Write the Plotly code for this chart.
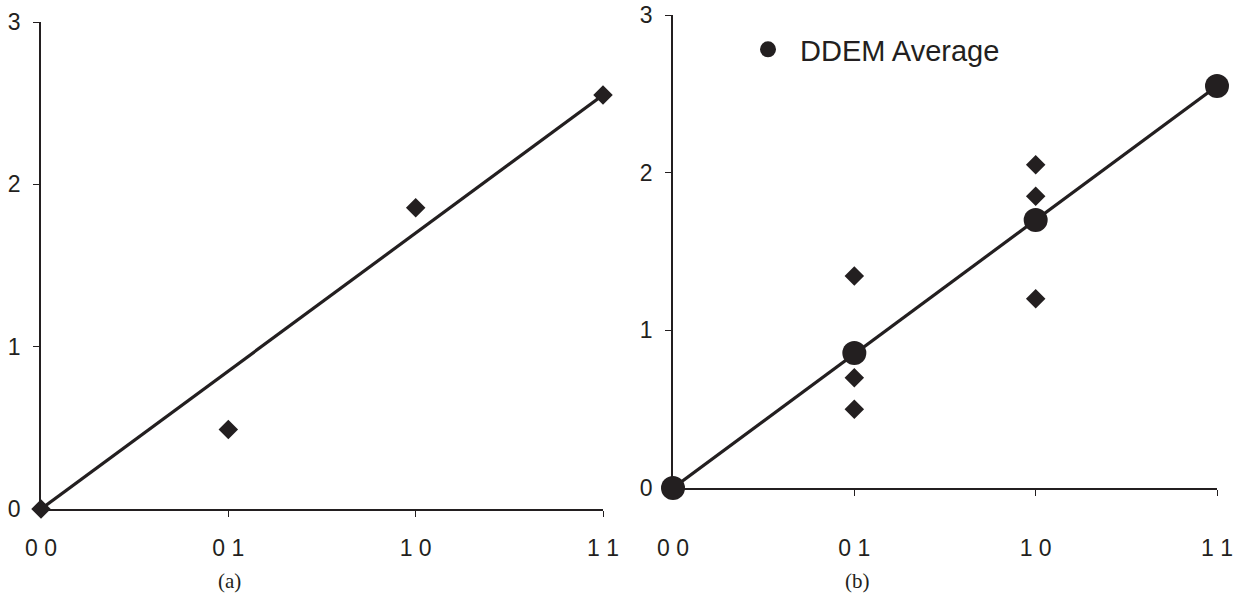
import plotly.graph_objects as go

# ---- data ----
tick_vals = [0, 1, 2, 3]
tick_text = ["0 0", "0 1", "1 0", "1 1"]
y_ticks = [0, 1, 2, 3]

# panel (a)
a_x = [0, 1, 2, 3]
a_y = [0.0, 0.49, 1.855, 2.55]
a_line_x = [0, 3]
a_line_y = [0.0, 2.55]

# panel (b)
b_ind_x = [1, 1, 1, 2, 2, 2]
b_ind_y = [1.345, 0.70, 0.50, 2.05, 1.85, 1.20]
b_avg_x = [0, 1, 2, 3]
b_avg_y = [0.0, 0.856, 1.70, 2.55]
b_line_x = [0, 3]
b_line_y = [0.0, 2.55]

INK = "#231f20"
W, H = 1250, 609

fig = go.Figure()

fig.add_trace(go.Scatter(x=a_line_x, y=a_line_y, mode="lines", line=dict(color=INK, width=3.2),
                         xaxis="x", yaxis="y", showlegend=False, cliponaxis=False))
fig.add_trace(go.Scatter(x=a_x, y=a_y, mode="markers", marker=dict(symbol="diamond", size=15, color=INK),
                         xaxis="x", yaxis="y", showlegend=False, cliponaxis=False))

fig.add_trace(go.Scatter(x=b_line_x, y=b_line_y, mode="lines", line=dict(color=INK, width=3.2),
                         xaxis="x2", yaxis="y2", showlegend=False, cliponaxis=False))
fig.add_trace(go.Scatter(x=b_ind_x, y=b_ind_y, mode="markers", marker=dict(symbol="diamond", size=15, color=INK),
                         xaxis="x2", yaxis="y2", showlegend=False, cliponaxis=False))
fig.add_trace(go.Scatter(x=b_avg_x, y=b_avg_y, mode="markers", name="DDEM Average",
                         marker=dict(symbol="circle", size=24, color=INK),
                         xaxis="x2", yaxis="y2", showlegend=True, cliponaxis=False))

axis_common = dict(range=[0, 3], showgrid=False, zeroline=False, showline=True, automargin=False,
                   ticklabeloverflow="allow",
                   linecolor=INK, linewidth=1.5, ticks="outside", ticklen=6, tickwidth=1.2,
                   tickcolor=INK, tickfont=dict(family="Liberation Sans, Arial", size=23, color=INK))

def px_x(p):
    return p / W

def px_y(p):
    return 1 - p / H

fig.update_layout(
    width=W, height=H,
    margin=dict(l=0, r=0, t=0, b=0, autoexpand=False),
    paper_bgcolor="white", plot_bgcolor="white",
    xaxis=dict(axis_common, domain=[px_x(41), px_x(603)], anchor="y",
               tickvals=tick_vals, ticktext=tick_text, ticklabelstandoff=12),
    yaxis=dict(axis_common, domain=[px_y(509), px_y(22)], anchor="x",
               tickvals=y_ticks, ticklabelstandoff=8),
    xaxis2=dict(axis_common, domain=[px_x(673), px_x(1217)], anchor="y2",
                tickvals=tick_vals, ticktext=tick_text, ticklabelstandoff=33),
    yaxis2=dict(axis_common, domain=[px_y(488), px_y(15)], anchor="x2",
                tickvals=y_ticks, ticklabelstandoff=8),
    legend=dict(x=px_x(736), y=px_y(24), xanchor="left", yanchor="top",
                bgcolor="rgba(0,0,0,0)", font=dict(family="Liberation Sans, Arial", size=29, color=INK),
                itemsizing="trace", itemwidth=54),
    annotations=[
        dict(text="(a)", x=px_x(229), y=px_y(581), xref="paper", yref="paper", showarrow=False,
             xanchor="center", yanchor="middle",
             font=dict(family="Liberation Serif, Times New Roman", size=21, color=INK)),
        dict(text="(b)", x=px_x(857), y=px_y(581), xref="paper", yref="paper", showarrow=False,
             xanchor="center", yanchor="middle",
             font=dict(family="Liberation Serif, Times New Roman", size=21, color=INK)),
    ],
)

fig.write_html("out.html",
               config={"displayModeBar": False},
               post_script="document.body.style.margin='0';document.body.style.overflow='hidden';")
